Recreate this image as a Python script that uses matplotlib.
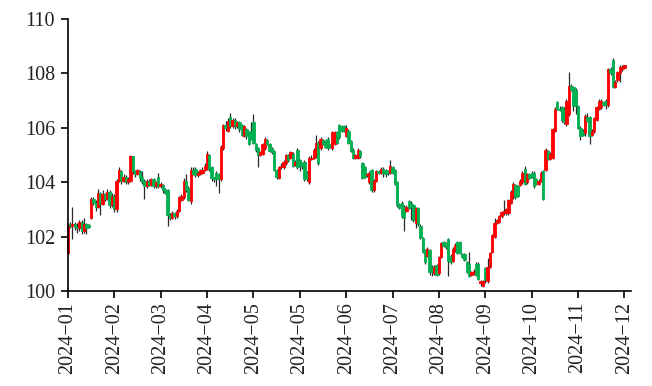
import matplotlib
matplotlib.use("Agg")
import matplotlib.pyplot as plt
import numpy as np

plt.rcParams['font.family'] = ['Liberation Serif', 'DejaVu Serif']

tick_labels = ["2024−01", "2024−02", "2024−03", "2024−04", "2024−05", "2024−05",
               "2024−06", "2024−07", "2024−08", "2024−09", "2024−10", "2024−11", "2024−12"]

opens = [
    101.40,102.45,102.40,102.45,102.35,102.30,102.55,102.20,102.45,102.42,
    102.70,103.40,103.25,103.10,103.60,103.20,103.55,103.40,103.65,103.15,
    103.50,103.00,104.05,104.40,104.05,104.20,104.00,104.05,104.95,104.40,
    104.30,104.40,104.20,104.05,103.85,104.05,103.90,104.10,103.85,104.20,
    103.85,103.90,103.75,103.70,102.80,102.70,102.85,102.75,102.95,103.35,
    103.45,104.05,103.80,103.30,104.45,104.50,104.25,104.30,104.35,104.45,
    104.50,105.00,104.55,104.20,104.35,104.30,104.10,105.25,106.10,105.90,
    106.40,106.05,106.30,106.05,106.20,106.10,105.70,105.95,105.85,105.90,
    106.20,105.40,105.25,105.00,105.05,105.25,105.55,105.40,105.25,105.15,
    104.45,104.15,104.55,104.55,104.70,105.00,104.90,105.05,104.65,105.20,
    104.80,104.70,104.75,104.35,104.00,104.85,104.90,104.95,105.45,105.25,
    105.55,105.50,105.60,105.35,105.25,105.40,105.85,106.10,106.05,106.05,
    105.70,105.90,105.50,105.20,104.90,104.90,105.15,104.70,104.55,104.25,
    104.00,104.45,103.70,104.05,104.40,104.35,104.50,104.45,104.40,104.35,
    104.55,104.45,104.00,103.20,103.25,103.10,102.95,103.30,103.25,103.15,
    102.50,103.05,102.40,101.95,101.50,101.30,101.50,100.90,100.65,100.95,
    100.65,101.25,101.80,101.75,101.90,101.30,101.10,101.50,101.80,101.80,
    101.35,101.35,101.05,101.00,100.60,100.65,101.00,101.00,100.30,100.20,
    100.85,100.35,100.90,101.45,102.00,102.50,102.55,102.75,102.85,102.85,
    102.85,103.25,103.45,103.90,103.85,103.90,104.00,104.50,104.00,104.30,
    104.35,104.35,104.10,103.95,104.05,104.40,104.45,105.15,104.85,104.90,
    105.90,106.95,106.70,106.75,106.70,106.15,106.50,107.55,107.50,107.40,
    106.80,106.00,105.90,105.80,106.40,106.40,105.75,105.90,106.30,106.70,
    106.75,106.95,107.00,106.85,108.15,108.50,107.50,107.75,108.00,108.15,108.20,
]

closes = [
    102.45,102.40,102.45,102.35,102.30,102.55,102.20,102.45,102.30,102.36,
    103.40,103.25,103.10,103.60,103.20,103.55,103.40,103.65,103.15,103.50,
    103.00,104.05,104.45,104.05,104.20,104.00,104.10,104.95,104.40,104.30,
    104.45,104.15,104.00,103.85,104.05,103.90,104.10,103.85,104.00,103.85,
    103.95,103.70,103.60,102.80,102.70,102.85,102.75,102.95,103.45,103.50,
    104.05,103.70,103.35,104.45,104.30,104.25,104.35,104.45,104.45,104.60,
    105.05,104.50,104.15,104.10,104.10,104.10,105.30,106.10,106.00,106.25,
    106.05,106.30,106.05,106.20,105.95,105.75,106.05,105.70,105.40,105.60,
    105.45,105.20,105.00,105.10,105.40,105.60,105.40,105.15,105.10,104.45,
    104.20,104.55,104.60,104.75,105.00,104.80,105.10,104.60,104.75,104.55,
    104.60,104.60,104.10,104.10,104.90,104.90,105.20,105.45,104.70,105.60,
    105.40,105.30,105.25,105.30,105.85,105.85,105.45,105.65,105.90,105.90,
    106.00,105.45,105.15,104.90,105.00,105.20,104.95,104.15,104.20,104.30,
    104.35,103.70,104.05,104.40,104.35,104.50,104.35,104.30,104.35,104.60,
    104.35,103.95,103.15,103.05,102.75,102.70,103.10,103.05,103.10,102.60,
    103.05,102.45,101.95,101.45,101.05,101.55,100.70,100.70,100.90,100.60,
    101.25,101.75,101.65,101.60,101.10,101.05,101.55,101.70,101.40,101.40,
    101.25,101.15,100.70,100.55,100.70,100.75,100.60,100.45,100.35,100.35,
    100.40,100.90,101.40,102.05,102.50,102.60,102.75,102.90,102.95,103.00,
    103.35,103.65,103.95,103.45,103.50,104.05,104.35,103.95,104.30,104.15,
    104.20,103.85,103.95,104.05,104.35,103.40,105.20,104.85,105.05,105.95,
    106.70,106.70,106.65,106.30,106.20,107.00,107.55,107.40,106.80,106.80,
    106.00,105.70,105.75,106.45,106.25,105.70,105.90,106.35,106.75,107.00,
    107.00,106.85,106.85,108.15,108.00,107.50,107.70,108.05,108.25,108.25,108.30,
]

highs = [
    102.50,102.55,103.10,102.55,102.50,102.60,102.60,102.70,102.50,102.45,
    103.45,103.45,103.35,103.75,103.65,103.70,103.60,103.75,103.70,103.60,
    103.55,104.10,104.55,104.45,104.30,104.25,104.20,105.00,104.98,104.45,
    104.50,104.45,104.40,104.10,104.10,104.10,104.15,104.15,104.05,104.35,
    104.00,103.95,103.80,103.75,102.85,102.95,102.90,103.00,103.50,103.55,
    104.15,104.30,103.85,104.55,104.55,104.55,104.40,104.50,104.55,104.70,
    105.15,105.05,104.60,104.20,104.40,104.35,105.35,106.15,106.25,106.35,
    106.55,106.35,106.35,106.25,106.25,106.15,106.10,106.00,105.90,106.20,
    106.50,105.45,105.30,105.15,105.45,105.65,105.60,105.45,105.30,105.20,
    104.50,104.60,104.70,104.80,105.05,105.05,105.15,105.10,104.80,105.25,
    104.85,104.75,104.80,104.40,104.95,105.00,105.25,105.75,105.50,105.65,
    105.60,105.55,105.65,105.40,105.90,105.90,105.90,106.15,106.10,106.10,
    106.10,105.95,105.55,105.25,105.05,105.25,105.20,104.75,104.60,104.35,
    104.40,104.50,104.10,104.45,104.45,104.55,104.55,104.50,104.45,104.80,
    104.60,104.50,104.05,103.25,103.30,103.15,103.15,103.35,103.30,103.20,
    103.10,103.10,102.45,102.00,101.55,101.60,101.55,100.95,100.95,101.00,
    101.30,101.80,101.85,101.80,101.95,101.35,101.60,101.75,101.85,101.85,
    101.40,101.40,101.10,101.45,100.75,100.80,101.05,101.05,100.40,100.40,
    100.90,101.20,101.45,102.10,102.70,102.65,102.80,102.95,103.35,103.05,
    103.40,103.70,104.00,103.95,103.90,104.10,104.40,104.60,104.35,104.35,
    104.40,104.40,104.15,104.10,104.40,104.45,105.25,105.20,105.10,106.00,
    106.75,107.00,106.80,106.80,106.75,107.05,108.05,107.60,107.55,107.45,
    106.85,106.05,105.95,106.50,106.55,106.45,105.95,106.40,106.80,107.05,
    107.05,107.00,107.05,108.20,108.25,108.55,107.75,108.10,108.30,108.30,108.30,
]

lows = [
    101.35,102.30,101.90,102.25,102.15,102.20,102.10,102.15,102.10,102.30,
    102.65,103.15,102.95,103.05,102.80,103.15,103.30,103.35,103.05,103.10,
    102.90,102.90,104.00,103.95,104.00,103.95,103.95,104.00,104.30,104.20,
    104.25,104.05,103.95,103.40,103.80,103.85,103.85,103.80,103.80,103.80,
    103.80,103.60,103.55,102.40,102.60,102.65,102.65,102.70,102.90,103.30,
    103.40,103.65,103.30,103.20,104.25,104.20,104.20,104.25,104.30,104.40,
    104.45,104.40,104.05,104.00,103.85,103.60,104.05,105.20,105.90,105.85,
    106.00,106.00,105.95,106.00,105.85,105.70,105.65,105.60,105.35,105.55,
    105.40,105.10,104.55,104.95,105.00,105.20,105.35,105.10,105.05,104.40,
    104.10,104.10,104.50,104.50,104.65,104.75,104.85,104.55,104.60,104.50,
    104.40,104.50,104.05,104.05,103.95,104.80,104.85,104.90,104.65,105.20,
    105.35,105.25,105.20,105.25,105.20,105.35,105.40,105.60,105.85,105.85,
    105.65,105.40,105.10,104.85,104.85,104.85,104.90,104.10,104.15,104.20,
    103.95,103.65,103.65,104.00,104.30,104.30,104.20,104.20,104.25,104.30,
    104.30,103.90,103.10,103.00,102.70,102.20,102.90,103.00,102.60,102.55,
    102.30,102.40,101.90,101.40,101.00,101.25,100.60,100.55,100.60,100.55,
    100.60,101.20,101.60,101.55,100.55,101.00,101.05,101.45,101.35,101.35,
    101.20,101.10,100.65,100.50,100.55,100.60,100.55,100.40,100.20,100.15,
    100.30,100.30,100.85,101.40,101.95,102.45,102.50,102.70,102.80,102.80,
    102.80,103.20,103.40,103.40,103.45,103.85,103.95,103.90,103.95,104.10,
    104.15,103.80,103.90,103.90,104.00,103.35,104.40,104.80,104.80,104.85,
    105.85,106.65,106.60,106.20,106.15,106.05,106.45,107.35,106.60,106.50,
    105.95,105.55,105.70,105.70,106.20,105.40,105.70,105.80,106.25,106.65,
    106.70,106.80,106.70,106.75,107.95,107.45,107.45,107.70,107.70,108.10,108.15,
]

o = np.array(opens)
c = np.array(closes)
h = np.array(highs)
l = np.array(lows)
x = np.arange(len(o))

up_color = "#FF0000"
down_color = "#00B050"
colors = [up_color if cc >= oo else down_color for oo, cc in zip(o, c)]

fig = plt.figure(figsize=(6.52, 3.86), dpi=100)
ax = fig.add_axes([0.1037, 0.2461, 0.864, 0.7047])

ax.vlines(x, l, h, color="#2a2a2a", linewidth=0.9, zorder=1, clip_on=False)
bottoms = np.minimum(o, c)
heights = np.maximum(np.abs(c - o), 0.05)
bars = ax.bar(x, heights, bottom=bottoms, width=1.0, color=colors, edgecolor=colors,
              linewidth=0.6, zorder=2)
for b in bars:
    b.set_clip_on(False)

ax.set_ylim(100, 110)
ax.set_yticks(np.arange(100, 111, 2))
ax.set_xlim(-0.1, 242.8)
ax.set_xticks(np.arange(0, 241, 20))
ax.set_xticklabels(tick_labels, rotation=90)

for s in ["top", "right"]:
    ax.spines[s].set_visible(False)
for s in ["left", "bottom"]:
    ax.spines[s].set_linewidth(1.2)
    ax.spines[s].set_color("black")
    ax.spines[s].set_zorder(3)

ax.tick_params(axis="both", direction="out", length=5, width=1.2, labelsize=14.5,
               colors="black", labelcolor="#222222")
ax.tick_params(axis="x", pad=3)
ax.tick_params(axis="y", pad=4)

fig.savefig("out.png", dpi=100)
